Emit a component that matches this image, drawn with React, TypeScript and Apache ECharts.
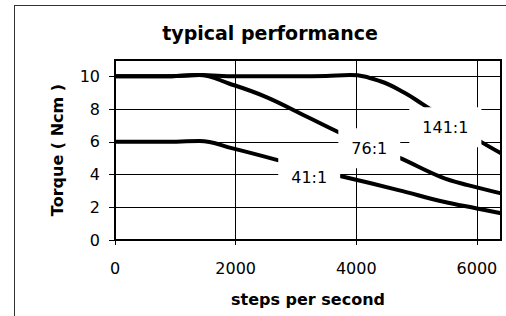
import React, { useEffect, useRef } from "react";
import * as echarts from "echarts";

// Data
const xTicks = [0, 2000, 4000, 6000];
const yTicks = [0, 2, 4, 6, 8, 10];
const xRange = [0, 6400];
const yRange = [0, 11];

const speeds141 = [0, 800, 1400, 2000, 3000, 3500, 3900, 4400, 4800, 5100, 5600, 6000, 6400];
const torque141 = [10, 10, 10.08, 10, 10, 10.02, 10.08, 9.7, 9.0, 8.3, 7.1, 6.15, 5.3];

const speeds76 = [0, 800, 1400, 1900, 2500, 3200, 3700, 4200, 4700, 5400, 5850, 6400];
const torque76 = [10, 10, 10.08, 9.55, 8.75, 7.5, 6.6, 5.75, 5.05, 3.86, 3.35, 2.85];

const speeds41 = [0, 800, 1400, 1950, 2700, 3200, 3750, 4700, 5450, 6000, 6400];
const torque41 = [6, 6, 6.05, 5.6, 4.88, 4.35, 3.9, 3.05, 2.34, 1.93, 1.63];

const seriesNames = ["141:1", "76:1", "41:1"];
const labelX = [5477, 4216, 3220];
const labelY = [6.89, 5.61, 3.84];

const FONT = "DejaVu Sans";

function pairs(xs: number[], ys: number[]) {
  return xs.map((x, i) => [x, ys[i]]);
}

export default function App() {
  const ref = useRef<HTMLDivElement>(null);
  useEffect(() => {
    if (!ref.current) return;
    const chart = echarts.init(ref.current, null, { renderer: "svg" });
    const seriesData = [
      pairs(speeds141, torque141),
      pairs(speeds76, torque76),
      pairs(speeds41, torque41),
    ];
    const series: any[] = seriesNames.map((name, i) => ({
      name,
      type: "line",
      data: seriesData[i],
      symbol: "none",
      smooth: 0.4,
      lineStyle: { color: "#000", width: 4 },
      z: 3,
      markPoint: {
        symbol: "rect",
        symbolSize: 1,
        itemStyle: { color: "rgba(0,0,0,0)" },
        z: 10,
        label: {
          show: true,
          position: "inside",
          formatter: name,
          backgroundColor: "#fff",
          padding: [12, 13],
          color: "#000",
          fontFamily: FONT,
          fontSize: 16,
        },
        data: [{ coord: [labelX[i], labelY[i]], value: name }],
      },
    }));
    // top and right edges of the plot frame
    series.push({
      type: "line",
      data: [
        [xRange[0], yRange[1]],
        [xRange[1], yRange[1]],
        [xRange[1], yRange[0]],
      ],
      symbol: "none",
      clip: false,
      z: 20,
      lineStyle: { color: "#000", width: 2 },
    });
    chart.setOption({
      animation: false,
      graphic: [
        {
          type: "text",
          x: 270,
          y: 33,
          style: {
            text: "typical performance",
            fontFamily: FONT,
            fontWeight: "bold",
            fontSize: 19,
            fill: "#000",
            textAlign: "center",
            textVerticalAlign: "middle",
          },
        },
      ],
      grid: {
        left: 115,
        right: 5,
        top: 60,
        bottom: 76,
        show: true,
        borderColor: "#000",
        borderWidth: 2,
      },
      xAxis: {
        type: "value",
        min: xRange[0],
        max: xRange[1],
        interval: 2000,
        name: "steps per second",
        nameLocation: "middle",
        nameGap: 51,
        nameTextStyle: { fontFamily: FONT, fontWeight: "bold", fontSize: 16, color: "#000" },
        axisLine: { show: true, onZero: false, lineStyle: { color: "#000", width: 2 } },
        axisTick: { show: true, length: 5, customValues: xTicks, lineStyle: { color: "#000", width: 1 } },
        axisLabel: {
          customValues: xTicks,
          margin: 20,
          fontFamily: FONT,
          fontSize: 16,
          color: "#000",
          formatter: (v: number) => String(v),
        },
        splitLine: { show: true, lineStyle: { color: "#000", width: 1 } },
      },
      yAxis: {
        type: "value",
        min: yRange[0],
        max: yRange[1],
        interval: 2,
        name: "Torque ( Ncm )",
        nameLocation: "middle",
        nameGap: 50,
        nameTextStyle: { fontFamily: FONT, fontWeight: "bold", fontSize: 16, color: "#000" },
        axisLine: { show: true, onZero: false, lineStyle: { color: "#000", width: 2 } },
        axisTick: { show: true, length: 6, customValues: yTicks, lineStyle: { color: "#000", width: 1 } },
        axisLabel: {
          customValues: yTicks,
          margin: 15,
          fontFamily: FONT,
          fontSize: 16,
          color: "#000",
        },
        splitLine: { show: true, lineStyle: { color: "#000", width: 1 } },
      },
      series,
    });
    return () => chart.dispose();
  }, []);
  return (
    <div style={{ position: "absolute", left: 0, top: 0, width: 506, height: 316, background: "#fff", overflow: "hidden" }}>
      <div
        style={{
          position: "absolute",
          left: 14,
          top: 5,
          width: 700,
          height: 500,
          border: "1px solid #333",
        }}
      />
      <div ref={ref} style={{ position: "absolute", left: 0, top: 0, width: 506, height: 316 }} />
      <div
        style={{
          position: "absolute",
          left: 115,
          top: 59,
          width: 387,
          height: 182,
          boxSizing: "border-box",
          borderTop: "2px solid #000",
          borderRight: "2px solid #000",
          pointerEvents: "none",
        }}
      />
    </div>
  );
}
